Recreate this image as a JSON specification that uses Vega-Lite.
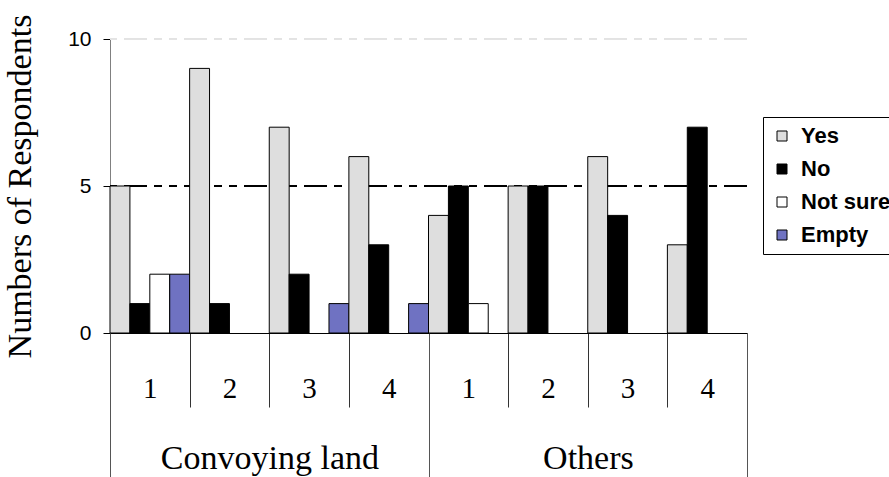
{
  "$schema": "https://vega.github.io/schema/vega-lite/v6.json",
  "width": 637,
  "height": 294,
  "autosize": {"type": "none"},
  "padding": {"left": 110, "top": 39, "right": 142, "bottom": 144},
  "background": "white",
  "config": {"view": {"stroke": null}},
  "data": {
    "values": [
      {"group": "Convoying land", "key": "Convoying land|1", "answer": "Yes", "count": 5},
      {"group": "Convoying land", "key": "Convoying land|1", "answer": "No", "count": 1},
      {"group": "Convoying land", "key": "Convoying land|1", "answer": "Not sure", "count": 2},
      {"group": "Convoying land", "key": "Convoying land|1", "answer": "Empty", "count": 2},
      {"group": "Convoying land", "key": "Convoying land|2", "answer": "Yes", "count": 9},
      {"group": "Convoying land", "key": "Convoying land|2", "answer": "No", "count": 1},
      {"group": "Convoying land", "key": "Convoying land|3", "answer": "Yes", "count": 7},
      {"group": "Convoying land", "key": "Convoying land|3", "answer": "No", "count": 2},
      {"group": "Convoying land", "key": "Convoying land|3", "answer": "Empty", "count": 1},
      {"group": "Convoying land", "key": "Convoying land|4", "answer": "Yes", "count": 6},
      {"group": "Convoying land", "key": "Convoying land|4", "answer": "No", "count": 3},
      {"group": "Convoying land", "key": "Convoying land|4", "answer": "Empty", "count": 1},
      {"group": "Others", "key": "Others|1", "answer": "Yes", "count": 4},
      {"group": "Others", "key": "Others|1", "answer": "No", "count": 5},
      {"group": "Others", "key": "Others|1", "answer": "Not sure", "count": 1},
      {"group": "Others", "key": "Others|2", "answer": "Yes", "count": 5},
      {"group": "Others", "key": "Others|2", "answer": "No", "count": 5},
      {"group": "Others", "key": "Others|3", "answer": "Yes", "count": 6},
      {"group": "Others", "key": "Others|3", "answer": "No", "count": 4},
      {"group": "Others", "key": "Others|4", "answer": "Yes", "count": 3},
      {"group": "Others", "key": "Others|4", "answer": "No", "count": 7}
    ]
  },
  "layer": [
    {
      "mark": {"type": "rule", "color": "#e3e3e3", "strokeDash": [23, 7, 8, 7, 8, 7]},
      "encoding": {"y": {"datum": 10}}
    },
    {
      "mark": {"type": "rule", "color": "black", "strokeDash": [23, 7, 8, 7, 8, 7]},
      "encoding": {"y": {"datum": 5}}
    },
    {
      "mark": {"type": "bar", "stroke": "black", "strokeWidth": 1},
      "encoding": {
        "x": {
          "field": "key",
          "type": "nominal",
          "sort": null,
          "scale": {
            "domain": ["Convoying land|1", "Convoying land|2", "Convoying land|3", "Convoying land|4", "Others|1", "Others|2", "Others|3", "Others|4"],
            "paddingInner": 0,
            "paddingOuter": 0
          },
          "axis": {
            "title": null,
            "orient": "bottom",
            "labelExpr": "isValid(datum.value) ? slice(datum.value, -1) : ''",
            "labelAngle": 0,
            "labelFont": "Liberation Serif",
            "labelFontSize": 29,
            "labelColor": "black",
            "labelBaseline": "middle",
            "labelPadding": -19,
            "tickBand": "extent",
            "tickSize": 74,
            "tickColor": "#333333",
            "domainColor": "black"
          }
        },
        "xOffset": {
          "field": "answer",
          "type": "nominal",
          "scale": {"domain": ["Yes", "No", "Not sure", "Empty"], "paddingInner": 0, "paddingOuter": 0}
        },
        "y": {
          "field": "count",
          "type": "quantitative",
          "scale": {"domain": [0, 10]},
          "axis": {
            "title": "Numbers of Respondents",
            "values": [0, 5, 10],
            "grid": false,
            "titleFont": "Liberation Serif",
            "titleFontSize": 34,
            "titleFontWeight": "normal",
            "titleColor": "black",
            "titleX": -73,
            "labelFont": "Liberation Sans",
            "labelFontSize": 21,
            "labelColor": "black",
            "labelPadding": 12,
            "tickSize": 7,
            "tickColor": "black",
            "domainColor": "#808080"
          }
        },
        "fill": {
          "field": "answer",
          "type": "nominal",
          "scale": {"domain": ["Yes", "No", "Not sure", "Empty"], "range": ["#dedede", "black", "white", "#6f72c2"]},
          "legend": {
            "title": null,
            "orient": "none",
            "legendX": 653,
            "legendY": 78,
            "strokeColor": "black",
            "fillColor": "white",
            "padding": 8,
            "symbolType": "square",
            "symbolSize": 100,
            "symbolStrokeColor": "black",
            "symbolStrokeWidth": 1,
            "labelFont": "Liberation Sans",
            "labelFontWeight": "bold",
            "labelFontSize": 22,
            "labelColor": "black",
            "labelOffset": 8,
            "rowPadding": 11
          }
        }
      }
    },
    {
      "mark": {"type": "bar", "opacity": 0},
      "encoding": {
        "x": {
          "field": "key",
          "type": "nominal",
          "sort": null,
          "axis": {
            "title": null,
            "orient": "bottom",
            "labelExpr": "datum.value === 'Convoying land|2' ? 'Convoying land' : datum.value === 'Others|2' ? 'Others' : ''",
            "labelAngle": 0,
            "labelOffset": 40,
            "labelLimit": 500,
            "labelFont": "Liberation Serif",
            "labelFontSize": 34,
            "labelColor": "black",
            "labelBaseline": "alphabetic",
            "labelPadding": -9,
            "tickBand": "extent",
            "tickSize": 144,
            "tickColor": "#555555",
            "tickOpacity": {"condition": {"test": "datum.value === 'Convoying land|4' || datum.value === 'Others|4' || isValid(datum.extra)", "value": 1}, "value": 0},
            "domain": false
          }
        }
      }
    }
  ],
  "resolve": {"axis": {"x": "independent"}}
}
